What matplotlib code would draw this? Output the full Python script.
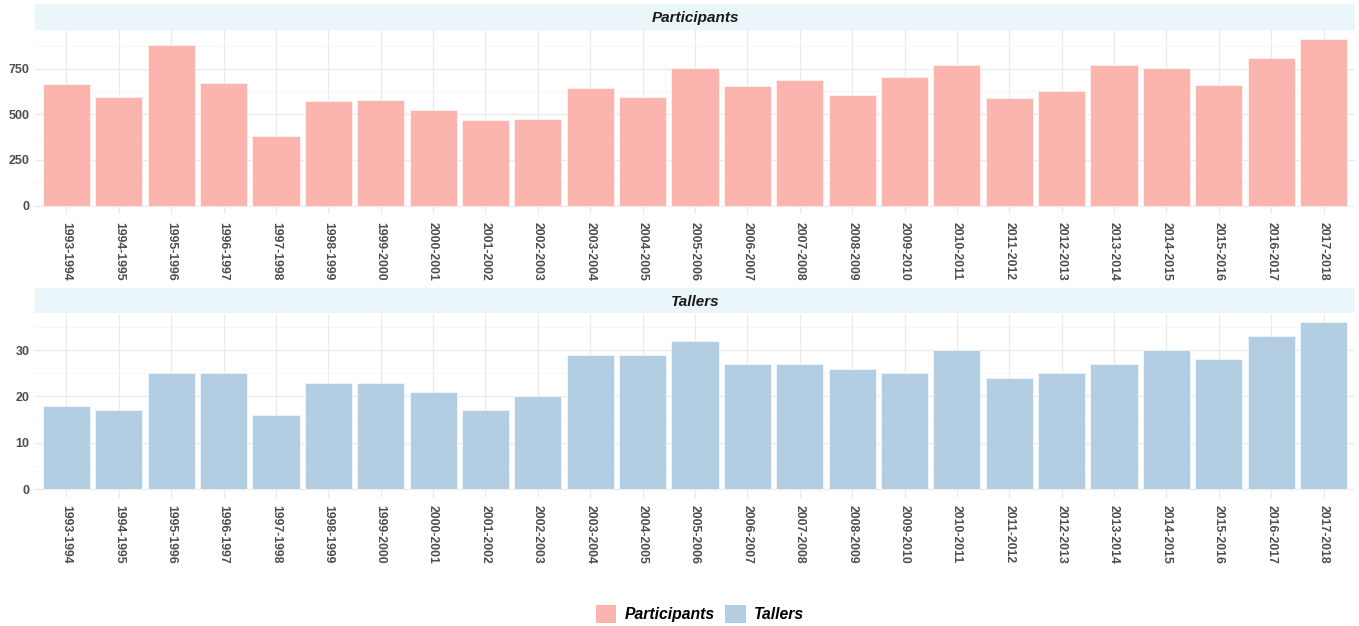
import matplotlib.pyplot as plt
from matplotlib.patches import Rectangle
from matplotlib.ticker import MultipleLocator

seasons = ['1993-1994', '1994-1995', '1995-1996', '1996-1997', '1997-1998',
           '1998-1999', '1999-2000', '2000-2001', '2001-2002', '2002-2003',
           '2003-2004', '2004-2005', '2005-2006', '2006-2007', '2007-2008',
           '2008-2009', '2009-2010', '2010-2011', '2011-2012', '2012-2013',
           '2013-2014', '2014-2015', '2015-2016', '2016-2017', '2017-2018']
participants = [665, 595, 878, 673, 380, 573, 580, 522, 468, 472,
                642, 593, 752, 655, 688, 608, 705, 772, 587, 625,
                768, 755, 660, 808, 913]
tallers = [18, 17, 25, 25, 16, 23, 23, 21, 17, 20,
           29, 29, 32, 27, 27, 26, 25, 30, 24, 25,
           27, 30, 28, 33, 36]

pink = '#FBB4AE'
blue = '#B3CDE3'
strip_bg = '#EAF6F9'
grid_major = '#EBEBEB'
grid_minor = '#F5F5F5'
text_col = '#4D4D4D'

plt.rcParams['font.family'] = ['Liberation Sans', 'DejaVu Sans']

W, H = 1359, 626
fig = plt.figure(figsize=(W / 100, H / 100), dpi=100)


def px_axes(left, top, right, bottom):
    return fig.add_axes([left / W, 1 - bottom / H, (right - left) / W, (bottom - top) / H])


def strip(top, bottom, label):
    fig.patches.append(Rectangle((35 / W, 1 - bottom / H), 1320 / W, (bottom - top) / H,
                                 transform=fig.transFigure, facecolor=strip_bg,
                                 edgecolor='none', zorder=0))
    fig.text((35 + 1355) / 2 / W, 1 - (top + bottom + 2) / 2 / H, label,
             ha='center', va='center', fontsize=11, fontweight='bold',
             fontstyle='italic', color='#1A1A1A')


def panel(ax, values, color, major, minor):
    x = list(range(len(seasons)))
    ax.bar(x, values, width=0.9, color=color, edgecolor='white', linewidth=0.4, zorder=3)
    ax.set_xlim(-0.6, len(seasons) - 0.4)
    ax.set_ylim(-max(values) * 0.05, max(values) * 1.05)
    ax.set_xticks(x)
    ax.set_xticklabels(seasons, rotation=-90, fontsize=8.8, fontweight='bold', color=text_col)
    ax.yaxis.set_major_locator(MultipleLocator(major))
    ax.yaxis.set_minor_locator(MultipleLocator(minor))
    for lab in ax.get_yticklabels():
        lab.set_fontweight('bold')
    ax.tick_params(axis='y', labelsize=9, labelcolor=text_col, length=0, pad=4, which='both')
    ax.tick_params(axis='x', length=0, pad=5.5)
    ax.grid(True, which='major', color=grid_major, linewidth=1.0, zorder=0)
    ax.grid(True, which='minor', axis='y', color=grid_minor, linewidth=0.6, zorder=0)
    ax.set_axisbelow(True)
    for s in ax.spines.values():
        s.set_visible(False)
    ax.set_facecolor('white')


ax1 = px_axes(35, 30.4, 1355, 214)
panel(ax1, participants, pink, 250, 125)
strip(4, 30, 'Participants')

ax2 = px_axes(35, 313.8, 1355, 497.7)
panel(ax2, tallers, blue, 10, 5)
strip(288, 313, 'Tallers')

# legend
handles = [Rectangle((0, 0), 1, 1, facecolor=pink, edgecolor='none'),
           Rectangle((0, 0), 1, 1, facecolor=blue, edgecolor='none')]
fig.legend(handles, ['Participants', 'Tallers'], loc='center',
           bbox_to_anchor=(0.515, 1 - 614 / H), ncol=2, frameon=False,
           handlelength=1.3, handleheight=1.3, handletextpad=0.5,
           columnspacing=0.7, prop={'size': 11.3, 'weight': 'bold', 'style': 'italic'})

fig.savefig('out.png', dpi=100)
